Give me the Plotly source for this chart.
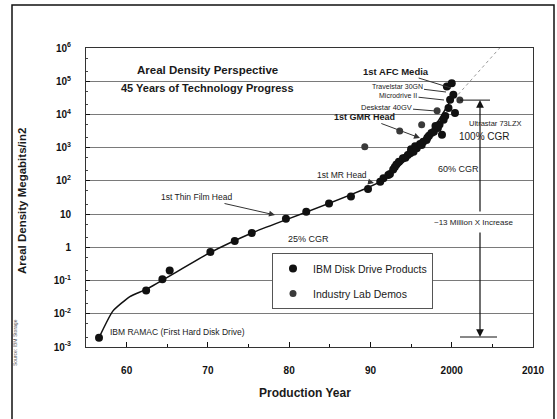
import plotly.graph_objects as go

# ---------------- data ----------------
prod_year = [1956.6, 1962.4, 1964.4, 1965.3, 1970.3, 1973.3, 1975.4, 1979.6, 1982.1,
             1984.9, 1987.6, 1989.7, 1991.2, 1991.6, 1992.2, 1992.4, 1992.8, 1993.0,
             1993.2, 1993.5, 1994.0, 1994.3, 1994.6, 1994.9, 1995.0, 1995.3, 1995.5,
             1995.7, 1996.1, 1996.3, 1996.5, 1996.9, 1997.0, 1997.2, 1997.5, 1997.8,
             1998.0, 1998.3, 1998.5, 1998.8, 1999.0, 1999.2, 1999.4, 1999.6, 1999.8,
             2000.0, 2000.2, 2000.4]
prod_density = [0.0019, 0.05, 0.11, 0.2, 0.72, 1.55, 2.7, 7.2, 11.7,
                21, 34, 57, 95, 120, 150, 160, 220, 260,
                310, 380, 480, 500, 600, 680, 900, 760, 1100,
                960, 1300, 1200, 1500, 1700, 2000, 2300, 2750, 3000,
                4500, 3900, 5000, 2450, 6900, 9000, 69000, 15500, 27500,
                87000, 39000, 11000]

lab_year = [1989.3, 1993.6, 1996.3, 1998.2, 2001.0]
lab_density = [1070, 3200, 4900, 13000, 27000]

trend_year = [1956.6, 1958.3, 1960.4, 1962.5, 1970.3, 1975.4, 1991.2, 1996.8, 2000.3]
trend_density = [0.0019, 0.012, 0.033, 0.056, 0.7, 2.7, 95, 1700, 40000]

extrap_year = [2000.8, 2007.0]
extrap_density = [40000, 2.0e6]

increase_low = 0.002     # RAMAC level
increase_high = 27000    # 2001 level

x_tickvals = [1960, 1970, 1980, 1990, 2000, 2010]
x_ticktext = ["60", "70", "80", "90", "2000", "2010"]
y_tickvals = [1e-3, 1e-2, 1e-1, 1, 10, 1e2, 1e3, 1e4, 1e5, 1e6]
y_ticktext = ["10<sup>-3</sup>", "10<sup>-2</sup>", "10<sup>-1</sup>", "1", "10",
              "10<sup>2</sup>", "10<sup>3</sup>", "10<sup>4</sup>", "10<sup>5</sup>",
              "10<sup>6</sup>"]

# ---------------- layout helpers ----------------
WIDTH, HEIGHT = 557, 419
L, R, T, B = 86, 533, 48, 347
PW, PH = R - L, B - T


def px(x):
    return (x - L) / PW


def py(y):
    return (B - y) / PH


FONT = "Liberation Sans, Arial, sans-serif"
INK = "#111111"

fig = go.Figure()

fig.add_trace(go.Scatter(
    x=trend_year, y=trend_density, mode="lines",
    line=dict(color=INK, width=1.5, shape="spline", smoothing=0.5),
    showlegend=False, hoverinfo="skip"))

fig.add_trace(go.Scatter(
    x=extrap_year, y=extrap_density, mode="lines",
    line=dict(color="#999999", width=1, dash="dot"),
    showlegend=False, hoverinfo="skip"))

fig.add_trace(go.Scatter(
    x=prod_year, y=prod_density, mode="markers",
    marker=dict(color=INK, size=8),
    name="IBM Disk Drive Products", legendgroup="a"))

fig.add_trace(go.Scatter(
    x=lab_year, y=lab_density, mode="markers",
    marker=dict(color="#3a3a3a", size=7),
    name="Industry Lab Demos", legendgroup="b"))

# 13 million x increase bracket lines
fig.add_shape(type="line", xref="paper", yref="y", x0=px(460), x1=px(490),
              y0=increase_high, y1=increase_high, line=dict(color=INK, width=1))
fig.add_shape(type="line", xref="paper", yref="y", x0=px(460), x1=px(497),
              y0=increase_low, y1=increase_low, line=dict(color=INK, width=1))

annotations = []


def text(t, x, y, size=9, bold=False, angle=0, color="#1a1a1a", xanchor="center"):
    annotations.append(dict(
        text=f"<b>{t}</b>" if bold else t, x=px(x), y=py(y), xref="paper", yref="paper",
        showarrow=False, textangle=angle, xanchor=xanchor, yanchor="middle",
        font=dict(family=FONT, size=size, color=color)))


def pointer(t, x, y, tipx, tipy, size=9, bold=False, head=0, color="#1a1a1a"):
    annotations.append(dict(
        text=f"<b>{t}</b>" if bold else t, x=px(tipx), y=py(tipy), xref="paper", yref="paper",
        showarrow=True, ax=x - tipx, ay=y - tipy, arrowhead=head, arrowsize=1.2,
        arrowwidth=1, arrowcolor="#333333",
        font=dict(family=FONT, size=size, color=color)))


text("Areal Density Perspective", 207, 70, size=11.5, bold=True)
text("45 Years of Technology Progress", 207, 88, size=11, bold=True)
pointer("1st AFC Media", 396, 71, 451, 88, size=9.5, bold=True)
pointer("Travelstar 30GN", 397, 86, 446, 92, size=7)
pointer("Microdrive II", 398, 95, 444, 100, size=7)
pointer("Deskstar 40GV", 386, 107, 436, 111, size=7.5)
pointer("1st GMR Head", 364, 117, 420, 138, size=9, bold=True, head=2)
text("Ultrastar 73LZX", 495, 123, size=7.5)
text("100% CGR", 484, 136, size=10)
text("60% CGR", 458, 169, size=9)
pointer("1st MR Head", 342, 175, 374, 183, size=8.5, head=2)
pointer("1st Thin Film Head", 196, 197, 275, 215, size=8.5, head=2)
text("25% CGR", 308, 239, size=9)
text("~13 Million X Increase", 473, 222, size=8)
text("IBM RAMAC (First Hard Disk Drive)", 108, 332, size=8.5, xanchor="left")
text("Areal Density Megabits/in2", 22, 201, size=11.5, bold=True, angle=-90)
text("Production Year", 305, 393, size=12, bold=True)
text("Source: IBM Storage", 15, 343, size=5, angle=-90, color="#555555")

# double arrow for 13 million x increase
annotations.append(dict(text="", x=px(480), y=py(100), xref="paper", yref="paper",
                        ax=0, ay=113, showarrow=True, arrowhead=2, arrowsize=1.3,
                        arrowwidth=1.2, arrowcolor=INK))
annotations.append(dict(text="", x=px(480), y=py(337), xref="paper", yref="paper",
                        ax=0, ay=-106, showarrow=True, arrowhead=2, arrowsize=1.3,
                        arrowwidth=1.2, arrowcolor=INK))

# outer frame of the whole picture
fig.add_shape(type="rect", xref="paper", yref="paper",
              x0=px(12), x1=px(554), y0=py(430), y1=py(5),
              line=dict(color=INK, width=1.5), layer="above")

fig.update_layout(
    width=WIDTH, height=HEIGHT,
    margin=dict(l=L, r=WIDTH - R, t=T, b=HEIGHT - B, autoexpand=False),
    paper_bgcolor="white", plot_bgcolor="white",
    font=dict(family=FONT, color=INK),
    annotations=annotations,
    showlegend=True,
    legend=dict(x=px(272), y=py(253), xanchor="left", yanchor="top",
                bgcolor="white", bordercolor="#555555", borderwidth=1,
                font=dict(family=FONT, size=10.5, color="#1a1a1a"),
                tracegroupgap=6, itemwidth=30),
)

fig.update_xaxes(
    range=[1955, 2010], tickvals=x_tickvals, ticktext=x_ticktext,
    ticks="inside", ticklen=5, tickcolor=INK, ticklabelstandoff=14,
    minor=dict(dtick=5, ticks="inside", ticklen=3, tickcolor=INK),
    showgrid=False, zeroline=False,
    showline=True, linecolor="#333333", linewidth=1, mirror=True,
    tickfont=dict(family=FONT, size=10, color=INK, weight="bold"))

fig.update_yaxes(
    type="log", range=[-3, 6], tickvals=y_tickvals, ticktext=y_ticktext,
    ticks="inside", ticklen=4, tickcolor=INK, ticklabelstandoff=12,
    minor=dict(ticks="inside", ticklen=2, tickcolor="#444444", showgrid=False),
    showgrid=True, gridcolor="#7a7a7a", gridwidth=1.2,
    zeroline=False,
    showline=True, linecolor="#333333", linewidth=1, mirror=True,
    tickfont=dict(family=FONT, size=10, color=INK, weight="bold"))

fig.write_html("out.html", config={"displayModeBar": False},
               post_script="document.body.style.margin='0';")
